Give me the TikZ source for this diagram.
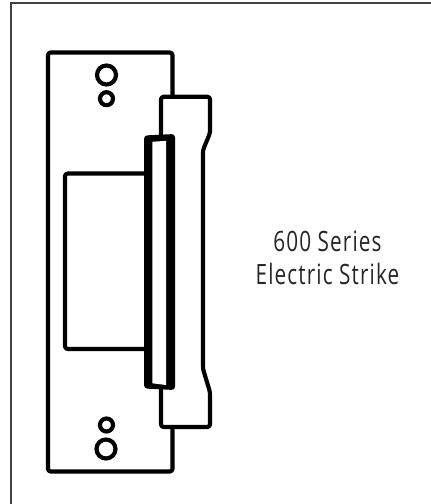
\documentclass[tikz,border=0pt]{standalone}
\usepackage{fontspec}
\setmainfont{Open Sans}
\newfontfamily\labelfont[FakeStretch=0.74,LetterSpace=4]{Open Sans}
\tikzset{
  px/.style={x=0.75pt,y=-0.75pt},
  line/.style={draw=black,line width=3.1pt,line join=round,line cap=round},
  thin frame/.style={draw=black!75,line width=1.5pt},
  label/.style={font=\labelfont\fontsize{21pt}{25pt}\selectfont,text=black!85,align=center}
}
\begin{document}
\begin{tikzpicture}[px]
\useasboundingbox (0,0) rectangle (430,504);
\draw[thin frame] (11,520) -- (11,2.5) -- (440,2.5);
% plate
\draw[line,rounded corners=2pt] (172.5,96.5) -- (172.5,52.5) -- (48,52.5) -- (48,471.5) -- (172.5,471.5) -- (172.5,427);
% holes
\draw[line] (106.5,75) circle[radius=9.5];
\draw[line] (106.5,98.7) circle[radius=6.5];
\draw[line] (106.5,425) circle[radius=6.5];
\draw[line] (106,449) circle[radius=9.5];
% inner box
\draw[line,rounded corners=2pt] (146,173.5) -- (65,173.5) -- (65,349) -- (146,349);
% strike body
\draw[line,rounded corners=2pt] (161,135) -- (161,96.7) -- (210,96.7) -- (210,133) -- (203,150) -- (203,369) -- (210,392) -- (210,427) -- (161,427) -- (161,388);
% thick keeper
\fill[black,rounded corners=2.5pt]
  (144,135.5) -- (175,134) -- (175,390) -- (144,388.5) -- cycle;
\fill[white] (152.3,141.8) -- (166,140.8) -- (166,385) -- (152.3,383.3) -- cycle;
\node[label] (t) at (327.5,258) {600 Series\\Electric Strike};
\end{tikzpicture}
\end{document}
